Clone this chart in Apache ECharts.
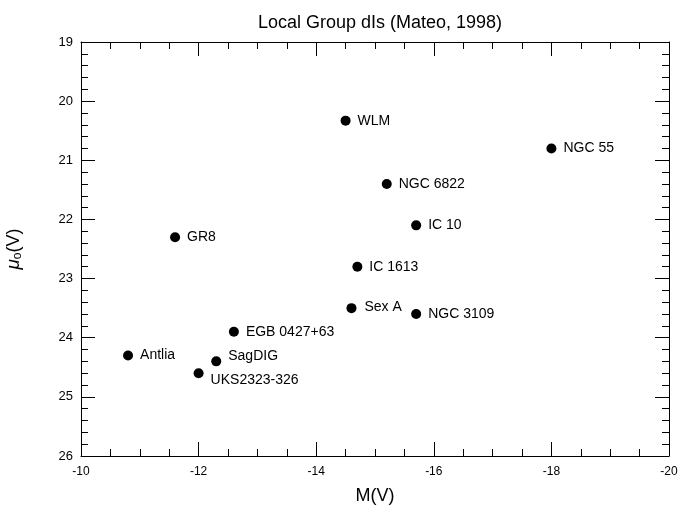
<!DOCTYPE html>
<html>
<head>
<meta charset="utf-8">
<script src="https://cdn.jsdelivr.net/npm/echarts@6/dist/echarts.min.js"></script>
<style>html,body{margin:0;padding:0;background:#fff}#c{width:680px;height:514px}</style>
</head>
<body>
<div id="c"></div>
<script>
var galaxies = ['WLM','NGC 55','NGC 6822','IC 10','IC 1613','Sex A','NGC 3109','GR8','EGB 0427+63','Antlia','SagDIG','UKS2323-326'];
var absMagV  = [-14.5, -18.0, -15.2, -15.7, -14.7, -14.6, -15.7, -11.6, -12.6, -10.8, -12.3, -12.0];
var muV      = [20.33, 20.8, 21.4, 22.1, 22.8, 23.5, 23.6, 22.3, 23.9, 24.3, 24.4, 24.6];
var xTicks = [-10, -12, -14, -16, -18, -20];
var yTicks = [19, 20, 21, 22, 23, 24, 25, 26];

// label placement tweaks (styling only)
var labelOffsets = { 'SagDIG': [0, -5], 'UKS2323-326': [0, 7], 'Sex A': [1, -1] };

var font = 'Liberation Sans, Arial, Helvetica, sans-serif';
var chart = echarts.init(document.getElementById('c'), null, {renderer: 'canvas'});

var points = galaxies.map(function (n, i) {
  return {
    name: n,
    value: [absMagV[i], muV[i]],
    label: { offset: labelOffsets[n] || [0, 0] }
  };
});

var axisCommon = {
  axisLine: { show: true, onZero: false, lineStyle: { color: '#000', width: 1 } },
  splitLine: { show: false }
};

chart.setOption({
  backgroundColor: '#fff',
  animation: false,
  title: {
    text: 'Local Group dIs (Mateo, 1998)',
    left: 375, top: 9, textAlign: 'center',
    textStyle: { fontFamily: font, fontSize: 18, fontWeight: 'normal', color: '#000' }
  },
  grid: { left: 81, right: 11, top: 42, bottom: 58, containLabel: false, outerBoundsMode: 'none' },
  xAxis: [
    Object.assign({
      type: 'value', position: 'bottom', inverse: true,
      min: -20, max: -10, interval: 2,
      axisTick: { show: true, inside: true, length: 14, lineStyle: { color: '#000' } },
      minorTick: { show: true, splitNumber: 4, length: 7, lineStyle: { color: '#000' } },
      axisLabel: { show: true, margin: 10, color: '#000', fontFamily: font, fontSize: 12,
        formatter: function (v) { return xTicks.indexOf(v) >= 0 ? String(v) : ''; } },
      name: 'M(V)', nameLocation: 'middle', nameGap: 31,
      nameTextStyle: { fontFamily: font, fontSize: 18, color: '#000' }
    }, axisCommon),
    Object.assign({
      type: 'value', position: 'top', inverse: true,
      min: -20, max: -10, interval: 2,
      axisTick: { show: true, inside: true, length: 14, lineStyle: { color: '#000' } },
      minorTick: { show: true, splitNumber: 4, length: 7, lineStyle: { color: '#000' } },
      axisLabel: { show: false }
    }, axisCommon)
  ],
  yAxis: [
    Object.assign({
      type: 'value', position: 'left', inverse: true,
      min: 19, max: 26, interval: 1,
      axisTick: { show: true, inside: true, length: 14, lineStyle: { color: '#000' } },
      minorTick: { show: true, splitNumber: 5, length: 7, lineStyle: { color: '#000' } },
      axisLabel: { show: true, margin: 8, color: '#000', fontFamily: font, fontSize: 13,
        formatter: function (v) { return yTicks.indexOf(v) >= 0 ? String(v) : ''; } },
      name: '{mu|μ}{sub|o}{n|(V)}', nameLocation: 'middle', nameGap: 57, nameRotate: 90,
      nameTextStyle: {
        fontFamily: font, fontSize: 18, color: '#000',
        rich: {
          mu: { fontFamily: font, fontSize: 19, fontStyle: 'italic', color: '#000' },
          sub: { fontFamily: font, fontSize: 12, color: '#000', verticalAlign: 'bottom', padding: [8, 0, 0, 0] },
          n: { fontFamily: font, fontSize: 18, color: '#000' }
        }
      }
    }, axisCommon),
    Object.assign({
      type: 'value', position: 'right', inverse: true,
      min: 19, max: 26, interval: 1,
      axisTick: { show: true, inside: true, length: 14, lineStyle: { color: '#000' } },
      minorTick: { show: true, splitNumber: 5, length: 7, lineStyle: { color: '#000' } },
      axisLabel: { show: false }
    }, axisCommon)
  ],
  series: [{
    type: 'scatter',
    xAxisIndex: 0, yAxisIndex: 0,
    symbol: 'circle', symbolSize: 10,
    itemStyle: { color: '#000', opacity: 1 },
    label: {
      show: true, position: 'right', distance: 7,
      formatter: '{b}', color: '#000', fontFamily: font, fontSize: 14
    },
    data: points
  }]
});
</script>
</body>
</html>
